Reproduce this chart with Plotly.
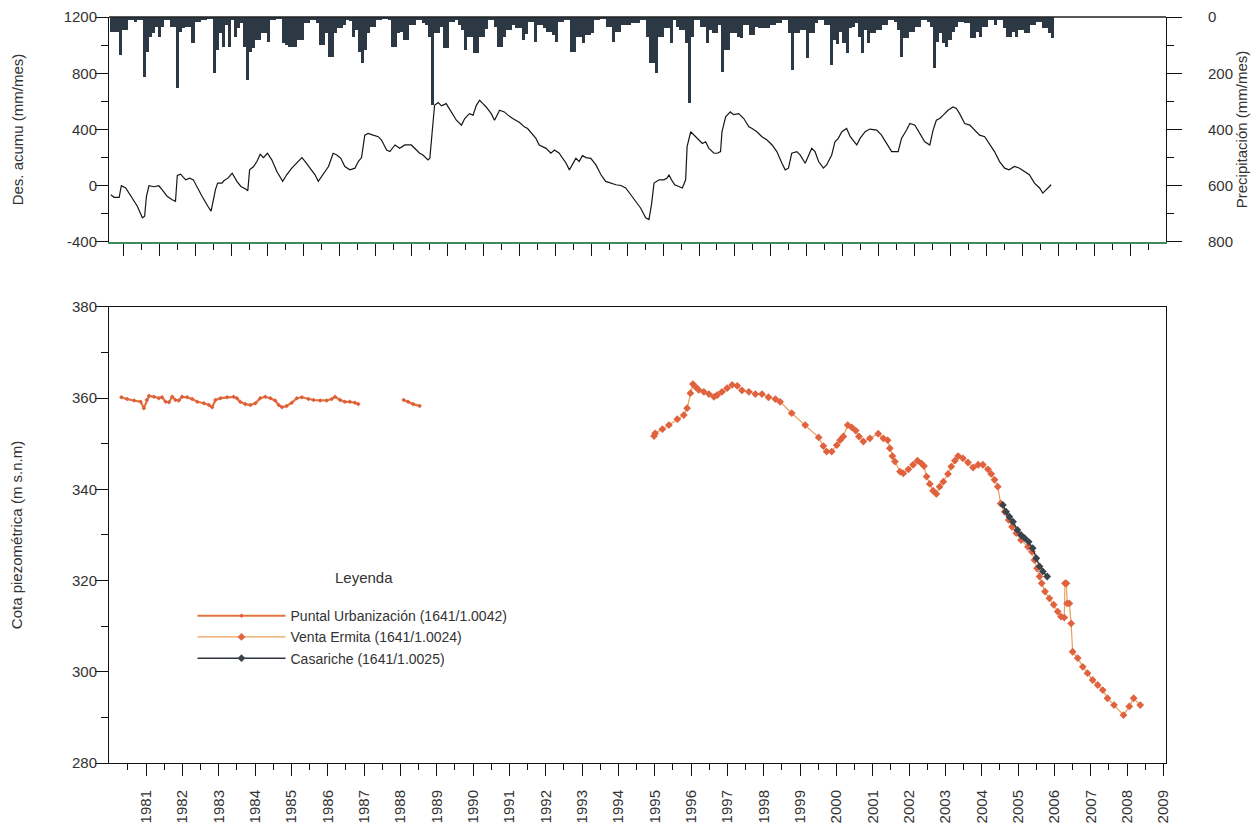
import plotly.graph_objects as go

# ---------------- data ----------------
# monthly precipitation (mm/mes), Jan 1980 .. Dec 2005
precip_years = list(range(1980, 2006))
precip_mm = [
    52, 52, 52, 135, 46, 46, 11, 11, 17, 11, 11, 214,      # 1980
    123, 70, 58, 34, 70, 34, 11, 11, 34, 34, 253, 52,      # 1981
    40, 34, 34, 94, 17, 17, 11, 11, 6, 6, 200, 117,        # 1982
    58, 105, 28, 105, 11, 70, 40, 20, 105, 224, 123, 111,  # 1983
    82, 82, 58, 58, 88, 11, 11, 6, 6, 94, 100, 105,        # 1984
    105, 105, 82, 82, 23, 23, 11, 11, 23, 99, 99, 58,      # 1985
    141, 141, 58, 40, 40, 28, 12, 15, 70, 46, 123, 165,    # 1986
    117, 58, 34, 34, 11, 11, 6, 6, 11, 105, 105, 58,       # 1987
    52, 82, 82, 28, 28, 11, 11, 20, 28, 70, 313, 58,       # 1988
    58, 34, 111, 111, 17, 17, 11, 30, 46, 117, 70, 70,     # 1989
    129, 129, 70, 70, 43, 11, 11, 34, 105, 105, 70, 46,    # 1990
    46, 28, 40, 40, 82, 60, 17, 17, 88, 28, 28, 40,        # 1991
    52, 52, 64, 88, 17, 17, 11, 11, 123, 123, 70, 70,      # 1992
    94, 64, 64, 58, 11, 11, 6, 6, 34, 34, 88, 52,          # 1993
    52, 28, 28, 28, 23, 23, 23, 11, 11, 70, 165, 165,      # 1994
    200, 70, 70, 40, 40, 94, 11, 34, 46, 46, 94, 306,      # 1995
    70, 11, 11, 34, 34, 94, 46, 58, 58, 28, 195, 117,      # 1996
    117, 58, 58, 70, 76, 28, 28, 64, 64, 34, 40, 40,       # 1997
    40, 40, 28, 28, 23, 23, 11, 11, 58, 188, 58, 58,       # 1998
    46, 46, 147, 58, 58, 23, 11, 11, 28, 28, 170, 82,      # 1999
    95, 52, 94, 129, 40, 34, 20, 70, 129, 46, 94, 58,      # 2000
    58, 46, 46, 28, 28, 11, 11, 17, 46, 141, 76, 76,       # 2001
    52, 52, 34, 34, 11, 11, 17, 34, 182, 88, 58, 94,       # 2002
    105, 80, 52, 34, 17, 17, 23, 23, 76, 76, 52, 70,       # 2003
    34, 34, 11, 11, 28, 11, 11, 40, 70, 70, 52, 70,        # 2004
    46, 46, 58, 58, 28, 28, 17, 17, 40, 40, 58, 76,        # 2005
]

# cumulative deviation (mm/mes)
dev_t = [1980.03, 1980.12, 1980.26, 1980.32, 1980.44, 1980.62, 1980.76, 1980.90, 1980.96, 1981.01,
         1981.08, 1981.22, 1981.35, 1981.44, 1981.58, 1981.72, 1981.81, 1981.86, 1981.95, 1982.09,
         1982.20, 1982.30, 1982.41, 1982.54, 1982.70, 1982.79, 1982.91, 1982.97, 1983.09, 1983.14,
         1983.25, 1983.37, 1983.50, 1983.61, 1983.73, 1983.80, 1983.85, 1983.96, 1984.05, 1984.14,
         1984.23, 1984.34, 1984.46, 1984.60, 1984.76, 1984.87, 1985.01, 1985.15, 1985.29, 1985.38,
         1985.51, 1985.65, 1985.74, 1985.83, 1985.93, 1986.02, 1986.15, 1986.25, 1986.36, 1986.47,
         1986.61, 1986.75, 1986.84, 1986.93, 1987.02, 1987.11, 1987.25, 1987.39, 1987.48, 1987.62,
         1987.71, 1987.85, 1987.98, 1988.12, 1988.30, 1988.44, 1988.53, 1988.62, 1988.76, 1988.81,
         1988.88, 1988.94, 1989.04, 1989.13, 1989.26, 1989.40, 1989.54, 1989.68, 1989.77, 1989.90,
         1990.00, 1990.09, 1990.18, 1990.27, 1990.36, 1990.50, 1990.59, 1990.73, 1990.86, 1990.96,
         1991.09, 1991.28, 1991.41, 1991.50, 1991.64, 1991.73, 1991.82, 1992.01, 1992.14, 1992.24,
         1992.37, 1992.46, 1992.56, 1992.65, 1992.74, 1992.83, 1992.92, 1993.01, 1993.11, 1993.24,
         1993.38, 1993.52, 1993.65, 1993.79, 1993.93, 1994.07, 1994.20, 1994.34, 1994.48, 1994.61,
         1994.75, 1994.84, 1994.91, 1994.98, 1995.12, 1995.25, 1995.34, 1995.39, 1995.46, 1995.55,
         1995.66, 1995.76, 1995.85, 1995.89, 1995.99, 1996.08, 1996.21, 1996.31, 1996.40, 1996.49,
         1996.63, 1996.72, 1996.81, 1996.85, 1996.95, 1997.08, 1997.17, 1997.31, 1997.45, 1997.59,
         1997.68, 1997.81, 1997.95, 1998.09, 1998.23, 1998.36, 1998.50, 1998.59, 1998.68, 1998.77,
         1998.91, 1999.00, 1999.14, 1999.23, 1999.32, 1999.41, 1999.51, 1999.64, 1999.73, 1999.87,
         1999.96, 2000.05, 2000.15, 2000.28, 2000.38, 2000.56, 2000.65, 2000.79, 2000.92, 2001.11,
         2001.24, 2001.38, 2001.52, 2001.70, 2001.79, 2001.93, 2002.02, 2002.16, 2002.30, 2002.43,
         2002.57, 2002.66, 2002.75, 2002.84, 2002.94, 2003.07, 2003.21, 2003.30, 2003.39, 2003.53,
         2003.67, 2003.80, 2003.94, 2004.08, 2004.22, 2004.35, 2004.49, 2004.63, 2004.75, 2004.90,
         2005.04, 2005.18, 2005.31, 2005.45, 2005.59, 2005.68, 2005.77, 2005.91]
dev_v = [-64, -82, -82, 0, -16, -87, -146, -228, -217, -75,
         0, -7, 0, -28, -75, -99, -110, 73, 82, 42,
         54, 42, -16, -75, -146, -181, -28, 19, 19, 35,
         54, 89, 31, -5, -21, -35, 113, 137, 172, 224,
         200, 231, 184, 101, 31, 78, 125, 160, 200, 172,
         125, 78, 31, 66, 101, 137, 231, 219, 195, 137,
         113, 125, 172, 200, 360, 372, 360, 349, 325, 254,
         243, 290, 266, 290, 290, 254, 231, 219, 184, 195,
         431, 572, 591, 568, 584, 525, 466, 431, 478, 513,
         502, 572, 608, 584, 560, 513, 466, 537, 525, 502,
         478, 450, 419, 407, 360, 337, 290, 266, 231, 254,
         231, 195, 160, 113, 160, 195, 172, 214, 200, 195,
         148, 78, 31, 19, 7, 2, -16, -64, -111, -158,
         -228, -240, -134, 19, 42, 42, 54, 78, 42, 7,
         -5, -16, 42, 278, 384, 360, 325, 301, 313, 266,
         231, 231, 243, 384, 490, 525, 506, 513, 478, 419,
         407, 384, 349, 325, 290, 243, 160, 113, 125, 231,
         243, 219, 160, 219, 266, 243, 172, 125, 148, 219,
         313, 337, 384, 407, 349, 290, 337, 384, 403, 396,
         360, 301, 243, 243, 337, 396, 443, 431, 372, 313,
         290, 396, 466, 478, 502, 537, 560, 549, 513, 443,
         431, 396, 360, 349, 290, 243, 172, 125, 113, 137,
         125, 101, 78, 19, -16, -52, -28, 7]

# Piezometric level (m s.n.m) - Puntal Urbanización
puntal_t = [1980.32, 1980.48, 1980.67, 1980.85, 1980.94, 1981.02, 1981.08, 1981.22, 1981.35, 1981.44,
            1981.54, 1981.63, 1981.72, 1981.81, 1981.90, 1981.99, 1982.13, 1982.27, 1982.41, 1982.59,
            1982.73, 1982.82, 1982.91, 1983.05, 1983.23, 1983.41, 1983.50, 1983.59, 1983.73, 1983.87,
            1984.01, 1984.14, 1984.28, 1984.42, 1984.55, 1984.65, 1984.74, 1984.87, 1985.01, 1985.15,
            1985.29, 1985.47, 1985.61, 1985.79, 1985.97, 1986.11, 1986.20, 1986.34, 1986.47, 1986.61,
            1986.75, 1986.84, None, 1988.09, 1988.21, 1988.35, 1988.53]
puntal_v = [360.2, 359.8, 359.5, 359.2, 357.8, 359.6, 360.5, 360.3, 360.0, 360.2,
            359.2, 359.1, 360.3, 359.6, 359.5, 360.3, 360.2, 359.8, 359.2, 358.9,
            358.5, 358.0, 359.6, 360.0, 360.2, 360.3, 360.0, 359.2, 358.7, 358.5,
            358.9, 360.0, 360.3, 360.0, 359.5, 358.5, 358.0, 358.3, 359.0, 360.0,
            360.2, 359.8, 359.6, 359.5, 359.5, 359.8, 360.3, 359.6, 359.2, 359.2,
            359.0, 358.7, None, 359.6, 359.2, 358.7, 358.3]

# Venta Ermita
venta_t = [1994.98, 1995.01, 1995.21, 1995.39, 1995.62, 1995.80, 1995.89, 1995.98, 1996.05, 1996.12,
           1996.21, 1996.35, 1996.49, 1996.63, 1996.72, 1996.85, 1996.99, 1997.13, 1997.27, 1997.40,
           1997.59, 1997.77, 1997.95, 1998.13, 1998.32, 1998.45, 1998.77, 1999.14, 1999.51, 1999.64,
           1999.73, 1999.87, 2000.01, 2000.10, 2000.19, 2000.31, 2000.42, 2000.53, 2000.62, 2000.74,
           2000.92, 2001.15, 2001.29, 2001.41, 2001.47, 2001.54, 2001.61, 2001.75, 2001.84, 2001.98,
           2002.11, 2002.23, 2002.34, 2002.41, 2002.48, 2002.57, 2002.66, 2002.75, 2002.84, 2002.94,
           2003.07, 2003.16, 2003.26, 2003.35, 2003.48, 2003.62, 2003.76, 2003.90, 2004.03, 2004.17,
           2004.26, 2004.35, 2004.44, 2004.52, 2004.63, 2004.74, 2004.83, 2004.95, 2005.08, 2005.27,
           2005.38, 2005.45, 2005.52, 2005.59, 2005.65, 2005.74, 2005.86, 2005.98, 2006.09, 2006.18,
           2006.27, 2006.29, 2006.33, 2006.35, 2006.41, 2006.46, 2006.50, 2006.64, 2006.78, 2006.91,
           2007.05, 2007.19, 2007.33, 2007.46, 2007.64, 2007.90, 2008.06, 2008.18, 2008.36]
venta_v = [351.7, 352.3, 353.2, 354.1, 355.4, 356.3, 357.8, 361.1, 363.1, 362.5,
           361.8, 361.4, 360.9, 360.3, 360.7, 361.4, 362.2, 362.9, 362.7, 361.7,
           361.4, 360.9, 360.9, 360.2, 359.8, 359.2, 356.7, 354.1, 351.4, 349.5,
           348.3, 348.3, 349.7, 350.8, 351.6, 354.1, 353.6, 352.9, 351.6, 350.5,
           351.2, 352.2, 351.2, 350.8, 349.0, 347.3, 346.1, 343.9, 343.5, 344.4,
           345.4, 346.3, 345.7, 345.1, 342.8, 341.2, 339.7, 339.0, 340.6, 341.7,
           343.4, 345.0, 346.3, 347.3, 346.8, 345.9, 344.8, 345.4, 345.4, 344.4,
           343.4, 342.1, 340.6, 336.9, 335.1, 333.3, 331.8, 330.4, 328.9, 327.4,
           326.3, 324.5, 322.7, 320.9, 319.4, 317.6, 316.1, 314.7, 313.2, 312.1,
           311.9, 319.4, 319.4, 315.0, 315.0, 310.6, 304.4, 303.0, 301.1, 299.7,
           298.2, 297.1, 296.0, 294.2, 292.7, 290.5, 292.4, 294.2, 292.7]

# Casariche
casa_t = [2004.58, 2004.67, 2004.76, 2004.86, 2004.98, 2005.08, 2005.18, 2005.29, 2005.40, 2005.50,
          2005.59, 2005.68, 2005.80]
casa_v = [336.6, 335.1, 334.0, 332.9, 331.1, 330.0, 329.3, 328.5, 327.1, 324.9,
          323.1, 322.0, 320.9]

year_ticks = list(range(1981, 2010))
half_year_ticks = [y + 0.5 for y in range(1980, 2009)]
dev_ticks = [-400, 0, 400, 800, 1200]
dev_tick_text = ["-400", "0", "400", "800", "1200"]
series_names = ["Puntal Urbanización (1641/1.0042)", "Venta Ermita (1641/1.0024)", "Casariche (1641/1.0025)"]

# ---------------- figure ----------------
FONT = "Liberation Sans, Arial, sans-serif"
TXT = "#333333"
bar_x = [y + (m + 0.5) / 12 for y in precip_years for m in range(12)]

fig = go.Figure()

fig.add_trace(go.Bar(x=bar_x, y=precip_mm, xaxis="x", yaxis="y2", width=1 / 12,
                     marker=dict(color="#2c3843", line=dict(width=0)), showlegend=False,
                     hoverinfo="skip"))
fig.add_trace(go.Scatter(x=dev_t, y=dev_v, xaxis="x", yaxis="y", mode="lines",
                         line=dict(color="#161616", width=1.2), showlegend=False))

fig.add_trace(go.Scatter(x=puntal_t, y=puntal_v, xaxis="x2", yaxis="y3", mode="lines+markers",
                         name=series_names[0], connectgaps=False,
                         line=dict(color="#e27440", width=2.2),
                         marker=dict(color="#dd5f3a", size=3.5, symbol="diamond")))
fig.add_trace(go.Scatter(x=venta_t, y=venta_v, xaxis="x2", yaxis="y3", mode="lines+markers",
                         name=series_names[1],
                         line=dict(color="#e8a05a", width=1.2),
                         marker=dict(color="#e0623e", size=6, symbol="diamond")))
fig.add_trace(go.Scatter(x=casa_t, y=casa_v, xaxis="x2", yaxis="y3", mode="lines+markers",
                         name=series_names[2],
                         line=dict(color="#2f363e", width=1.5),
                         marker=dict(color="#3b434b", size=6, symbol="diamond")))

axis_font = dict(family=FONT, size=15, color=TXT)
title_font = dict(family=FONT, size=15, color=TXT)
X0, X1 = 1979.98, 2009.07

fig.update_layout(
    width=1260, height=828,
    margin=dict(l=109, r=94, t=17, b=65, autoexpand=False),
    paper_bgcolor="white", plot_bgcolor="white",
    font=dict(family=FONT, color=TXT),
    bargap=0,
    showlegend=True,
    xaxis=dict(domain=[0, 1], anchor="y", range=[X0, X1], showgrid=False, zeroline=False,
               automargin=False,
               showticklabels=False, showline=True, linecolor="#3d8a5e", linewidth=1.5,
               ticks="outside", tickmode="linear", tick0=1980.384, dtick=0.9896,
               ticklen=12, tickcolor="#111", tickwidth=1,
               minor=dict(ticks="outside", tickmode="linear", tick0=1980.384, dtick=0.4948,
                          ticklen=6, tickcolor="#111", tickwidth=1, showgrid=False)),
    yaxis=dict(domain=[0.6984, 1], anchor="x", range=[-400, 1200], showgrid=False, zeroline=False,
               automargin=False, showline=True, linecolor="#111", linewidth=1,
               ticks="outside", tickmode="array", tickvals=dev_ticks, ticktext=dev_tick_text,
               ticklen=13, tickcolor="#111", tickfont=axis_font, ticklabelstandoff=-5,
               minor=dict(ticks="outside", tickmode="linear", tick0=-400, dtick=200, ticklen=7,
                          tickcolor="#111", showgrid=False),
               title=dict(text="Des. acumu (mm/mes)", font=title_font, standoff=36)),
    yaxis2=dict(overlaying="y", anchor="x", side="right", range=[800, 0], showgrid=False,
                zeroline=False, automargin=False, showline=True, linecolor="#111", linewidth=1,
                ticks="outside", tickmode="linear", tick0=0, dtick=200, ticklen=15,
                tickcolor="#111", tickfont=axis_font, ticklabelstandoff=23,
                minor=dict(ticks="outside", dtick=100, ticklen=7, tickcolor="#111", showgrid=False),
                title=dict(text="Precipitación (mm/mes)", font=title_font, standoff=2)),
    xaxis2=dict(domain=[0, 1], anchor="y3", range=[X0, X1], showgrid=False, zeroline=False,
                automargin=False, showline=True, linecolor="#111", linewidth=1, mirror=True,
                ticks="outside", tickmode="array", tickvals=year_ticks,
                ticktext=[str(y) for y in year_ticks], ticklen=12, tickcolor="#111",
                tickangle=-90, tickfont=axis_font, ticklabelstandoff=8,
                minor=dict(ticks="outside", tickmode="array", tickvals=half_year_ticks,
                           ticklen=6, tickcolor="#111", showgrid=False)),
    yaxis3=dict(domain=[0, 0.6113], anchor="x2", range=[280, 380], showgrid=False, zeroline=False,
                automargin=False, showline=True, linecolor="#111", linewidth=1, mirror=True,
                ticks="outside", tickmode="linear", tick0=280, dtick=20, ticklen=13,
                tickcolor="#111", tickfont=axis_font, ticklabelstandoff=-5,
                minor=dict(ticks="outside", dtick=10, ticklen=7, tickcolor="#111", showgrid=False),
                title=dict(text="Cota piezométrica (m s.n.m)", font=title_font, standoff=45)),
    legend=dict(x=0.079, y=0.2183, xanchor="left", yanchor="top", bgcolor="rgba(0,0,0,0)",
                font=dict(family=FONT, size=14, color=TXT), tracegroupgap=0, itemwidth=88),
    annotations=[dict(text="Leyenda", xref="paper", yref="paper", x=0.2412, y=0.248,
                      xanchor="center", yanchor="middle", showarrow=False,
                      font=dict(family=FONT, size=15, color=TXT))],
    shapes=[dict(type="line", xref="paper", yref="paper", x0=0, x1=1, y0=1, y1=1,
                 line=dict(color="#222", width=1.5))],
)

fig.write_html("out.html", config={"displayModeBar": False},
               post_script="document.body.style.margin='0';")
